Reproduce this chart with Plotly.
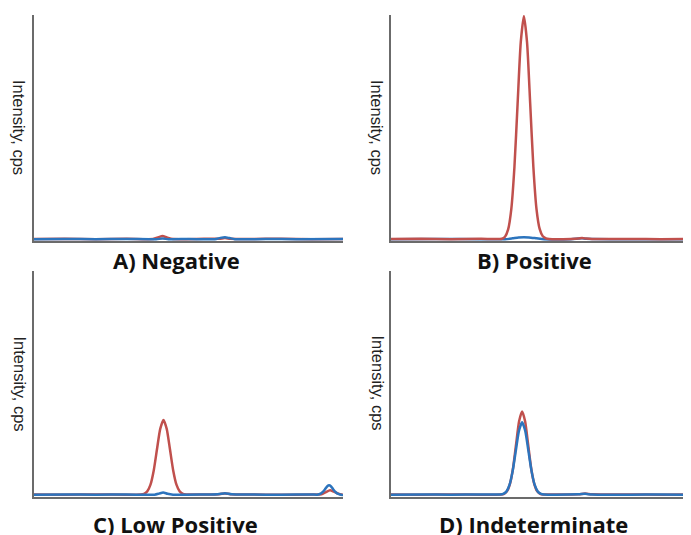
import plotly.graph_objects as go

# ---------------- data (retention time 0-100, relative intensity 0-1) ----------------
# Panel A: Negative
a_red_x = [0, 10, 20, 30, 38.5, 40.3, 41.6, 43.0, 45, 55, 60, 61.8, 63.5, 70, 80, 90, 100]
a_red_y = [0.001, 0.002, 0.000, 0.002, 0.001, 0.009, 0.014, 0.008, 0.001, 0.002, 0.002, 0.005, 0.002, 0.001, 0.002, 0.000, 0.001]
a_blue_x = [0, 10, 20, 30, 39.5, 41.6, 43.5, 50, 58.5, 60.3, 61.8, 63.3, 65, 75, 85, 100]
a_blue_y = [0.000, 0.001, 0.000, 0.001, 0.000, 0.003, 0.000, 0.001, 0.000, 0.006, 0.009, 0.005, 0.000, 0.001, 0.000, 0.001]

# Panel B: Positive
b_red_x = [0, 10, 20, 30, 36.95, 38.0, 39.05, 40.1, 41.15, 42.2, 43.25, 44.3, 45.35, 46.4, 47.45,
           48.5, 49.55, 50.6, 51.65, 52.7, 60, 62.5, 63.7, 65, 67, 80, 90, 100]
b_red_y = [0.001, 0.002, 0.000, 0.002, 0.002, 0.011, 0.044, 0.135, 0.325, 0.607, 0.882, 1.000, 0.882, 0.607, 0.325,
           0.135, 0.046, 0.013, 0.004, 0.001, 0.001, 0.003, 0.005, 0.003, 0.001, 0.001, 0.000, 0.001]
b_blue_x = [0, 15, 30, 38.0, 40.5, 42.5, 44.3, 46.0, 48.5, 51.0, 60, 62.5, 63.7, 65, 75, 100]
b_blue_y = [0.000, 0.001, 0.000, 0.000, 0.004, 0.008, 0.009, 0.008, 0.004, 0.000, 0.000, 0.003, 0.004, 0.002, 0.000, 0.000]

# Panel C: Low Positive
c_red_x = [0, 10, 20, 30, 34.55, 35.6, 36.65, 37.7, 38.75, 39.8, 40.85, 41.9, 42.95, 44.0, 45.05,
           46.1, 47.15, 48.2, 49.25, 55, 60, 61.8, 63.5, 70, 80, 90, 93.0, 94.5, 95.8, 97.0, 98.5, 100]
c_red_y = [0.001, 0.000, 0.001, 0.000, 0.001, 0.004, 0.015, 0.045, 0.109, 0.204, 0.296, 0.336, 0.296, 0.204, 0.109,
           0.045, 0.015, 0.004, 0.001, 0.001, 0.002, 0.006, 0.002, 0.001, 0.000, 0.001, 0.002, 0.012, 0.020, 0.014, 0.005, 0.000]
c_blue_x = [0, 10, 20, 30, 39.0, 40.5, 41.8, 43.2, 45, 55, 59.5, 61.8, 64, 70, 80, 90, 91.6,
            92.9, 93.55, 94.2, 94.85, 95.5, 96.15, 96.8, 97.45, 98.1, 99.0, 100]
c_blue_y = [0.000, 0.001, 0.000, 0.001, 0.000, 0.005, 0.010, 0.004, 0.000, 0.001, 0.002, 0.007, 0.002, 0.001, 0.000, 0.001, 0.000,
            0.006, 0.014, 0.025, 0.037, 0.042, 0.037, 0.025, 0.014, 0.006, 0.001, -0.002]

# Panel D: Indeterminate
d_red_x = [0, 10, 20, 30, 36.7, 37.7, 38.7, 39.7, 40.7, 41.7, 42.7, 43.7, 44.7, 45.7, 46.7,
           47.7, 48.7, 49.7, 50.7, 55, 62.5, 64.7, 67, 80, 90, 100]
d_red_y = [0.001, 0.000, 0.001, 0.000, 0.001, 0.004, 0.016, 0.051, 0.121, 0.227, 0.330, 0.374, 0.330, 0.227, 0.121,
           0.051, 0.016, 0.004, 0.001, 0.001, 0.002, 0.005, 0.002, 0.001, 0.000, 0.001]
d_blue_x = [0, 10, 20, 30, 36.35, 37.4, 38.45, 39.5, 40.55, 41.6, 42.65, 43.7, 44.75, 45.8, 46.85,
            47.9, 48.95, 50.0, 51.05, 55, 62.5, 64.7, 67, 80, 90, 100]
d_blue_y = [0.000, 0.001, 0.000, 0.001, 0.001, 0.004, 0.014, 0.044, 0.106, 0.197, 0.287, 0.325, 0.287, 0.197, 0.106,
            0.044, 0.014, 0.004, 0.001, 0.000, 0.002, 0.004, 0.001, 0.000, 0.001, 0.000]

panel_titles = ["A) Negative", "B) Positive", "C) Low Positive", "D) Indeterminate"]
y_label = "Intensity, cps"

RED = "#C0504D"
BLUE = "#2C74BD"
OFF = 8            # page body margin offset in the browser
W, H = 691 - OFF, 535 - OFF

def px_x(p):
    return (p - OFF) / W

def px_y(p):
    return 1 - (p - OFF) / H

fig = go.Figure()

panels = [
    ("x", "y", [(a_red_x, a_red_y, RED), (a_blue_x, a_blue_y, BLUE)]),
    ("x2", "y2", [(b_blue_x, b_blue_y, BLUE), (b_red_x, b_red_y, RED)]),
    ("x3", "y3", [(c_red_x, c_red_y, RED), (c_blue_x, c_blue_y, BLUE)]),
    ("x4", "y4", [(d_red_x, d_red_y, RED), (d_blue_x, d_blue_y, BLUE)]),
]
for xa, ya, traces in panels:
    for xs, ys, col in traces:
        fig.add_trace(go.Scatter(x=xs, y=ys, mode="lines", xaxis=xa, yaxis=ya,
                                 line=dict(color=col, width=2.5, shape="spline", smoothing=0.6),
                                 hoverinfo="skip"))

left_dom = [px_x(34), px_x(343)]
right_dom = [px_x(391), 1.0]
top_dom = [px_y(241), px_y(15)]
bot_dom = [px_y(496.5), px_y(271)]

axis_common = dict(showline=True, linecolor="#6b6b6b", linewidth=2, showgrid=False,
                   zeroline=False, showticklabels=False, ticks="", fixedrange=True)

layout_axes = {}
doms = [(left_dom, top_dom), (right_dom, top_dom), (left_dom, bot_dom), (right_dom, bot_dom)]
for i, (xd, yd) in enumerate(doms, start=1):
    sfx = "" if i == 1 else str(i)
    layout_axes["xaxis" + sfx] = dict(domain=xd, range=[0, 100], anchor="y" + sfx, **axis_common)
    layout_axes["yaxis" + sfx] = dict(domain=yd, range=[-0.008, 1.005], anchor="x" + sfx, **axis_common)

annotations = []
title_pos = [(176, 259.5), (534, 259.5), (175.5, 523.5), (533, 523.5)]
for t, (tx, ty) in zip(panel_titles, title_pos):
    annotations.append(dict(text="<b>" + t + "</b>", x=px_x(tx), y=px_y(ty), xref="paper", yref="paper",
                            xanchor="center", yanchor="middle", showarrow=False,
                            font=dict(family="Open Sans", size=22, color="#111111")))
label_pos = [(19.5, 127.5), (377.5, 127.5), (19.5, 384), (377.5, 383)]
for lx, ly in label_pos:
    annotations.append(dict(text=y_label, x=px_x(lx), y=px_y(ly), xref="paper", yref="paper",
                            xanchor="center", yanchor="middle", showarrow=False, textangle=90,
                            font=dict(family="Liberation Sans, Arial", size=16.5, color="#222222")))

fig.update_layout(width=W, height=H, margin=dict(l=0, r=0, t=0, b=0),
                  paper_bgcolor="white", plot_bgcolor="white", showlegend=False,
                  annotations=annotations, **layout_axes)

fig.write_html("out.html", config={"displayModeBar": False})
